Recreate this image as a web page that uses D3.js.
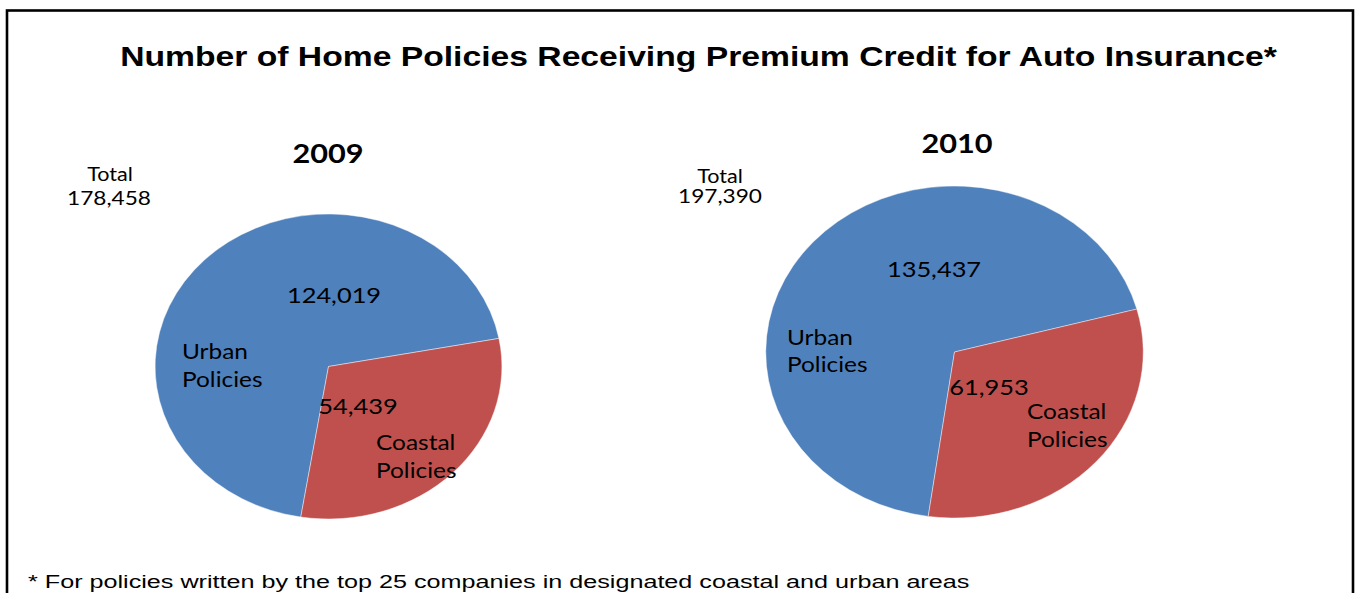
<!DOCTYPE html>
<html>
<head>
<meta charset="utf-8">
<script src="https://cdn.jsdelivr.net/npm/d3@7"></script>
<style>
  html, body { margin: 0; padding: 0; background: #fff; }
  svg { display: block; }
</style>
</head>
<body>
<svg id="chart" width="1363" height="593"></svg>
<script>
// Policy counts per year
const years = ["2009", "2010"];
const categories = ["Urban Policies", "Coastal Policies"];
const urbanValues = [124019, 135437];
const coastalValues = [54439, 61953];
const totals = [178458, 197390];

const title = "Number of Home Policies Receiving Premium Credit for Auto Insurance*";
const footnote = "* For policies written by the top 25 companies in designated coastal and urban areas";

const colors = d3.scaleOrdinal().domain(categories).range(["#4F81BD", "#C0504D"]);
const fmt = d3.format(",");

const W = 1363, H = 593;
const SX = 1.137; // horizontal stretch of the whole drawing

// Per-pie layout (outer pixel space)
const layout = [
  { cx: 328.5, cy: 366.5, r: 152.5, start: -170.8,
    yearPos: [328, 163],
    totalPos: [[110, 181], [109, 205]],
    valuePos: [[334, 303], [358, 414]],
    catPos: [[[182, 359], [182, 387]], [[376, 450], [376, 478]]] },
  { cx: 954.5, cy: 352, r: 166, start: -172,
    yearPos: [957, 153],
    totalPos: [[720, 182.5], [720, 203]],
    valuePos: [[934, 277], [989, 395]],
    catPos: [[[787, 345], [787, 372]], [[1027, 419], [1027, 447]]] }
];

const svg = d3.select("#chart");

// Frame
svg.append("rect")
  .attr("x", 7).attr("y", 10.5)
  .attr("width", 1346).attr("height", 620)
  .attr("fill", "none").attr("stroke", "#000").attr("stroke-width", 2.6);

function addText(x, y, str, opts) {
  const sx = SX * (opts.stretch || 1);
  return svg.append("text")
    .attr("transform", `translate(${x},${y}) scale(${sx},1)`)
    .attr("text-anchor", opts.anchor || "start")
    .attr("font-family", opts.family)
    .attr("font-size", opts.size)
    .attr("font-weight", opts.weight || "normal")
    .attr("fill", "#000")
    .text(str);
}

const arial = "'Liberation Sans', Arial, sans-serif";
addText(698.5, 66, title, { anchor: "middle", family: arial, size: 27.5, weight: "bold", stretch: 1.077 });
addText(28, 588, footnote, { family: arial, size: 18.5, stretch: 1.197 });

const body = "Lato, 'Open Sans', sans-serif";

years.forEach((year, i) => {
  const L = layout[i];
  const data = categories.map((c, k) => ({ cat: c, value: k === 0 ? urbanValues[i] : coastalValues[i] }));
  const a0 = L.start * Math.PI / 180;
  const pie = d3.pie().sort(null).value(d => d.value).startAngle(a0).endAngle(a0 + 2 * Math.PI);
  const arc = d3.arc().innerRadius(0).outerRadius(L.r);

  const g = svg.append("g").attr("transform", `translate(${L.cx},${L.cy}) scale(${SX},1)`);
  g.selectAll("path")
    .data(pie(data))
    .join("path")
    .attr("d", arc)
    .attr("fill", d => colors(d.data.cat))
    .attr("stroke", "rgba(255,255,255,0.55)")
    .attr("stroke-width", 0.8)
    .attr("vector-effect", "non-scaling-stroke");

  addText(L.yearPos[0], L.yearPos[1], year, { anchor: "middle", family: body, size: 27, weight: "bold" });
  addText(L.totalPos[0][0], L.totalPos[0][1], "Total", { anchor: "middle", family: body, size: 19 });
  addText(L.totalPos[1][0], L.totalPos[1][1], fmt(totals[i]), { anchor: "middle", family: body, size: 19, stretch: 1.05 });

  data.forEach((d, k) => {
    addText(L.valuePos[k][0], L.valuePos[k][1], fmt(d.value), { anchor: "middle", family: body, size: 21.5, stretch: 1.04 });
    const words = d.cat.split(" ");
    words.forEach((w, j) => {
      addText(L.catPos[k][j][0], L.catPos[k][j][1], w, { family: body, size: 21.5 });
    });
  });
});
</script>
</body>
</html>
